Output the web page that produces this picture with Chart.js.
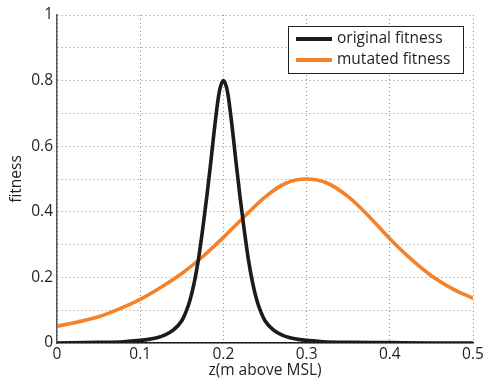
<!DOCTYPE html>
<html>
<head>
<meta charset="utf-8">
<script src="https://cdn.jsdelivr.net/npm/chart.js@4"></script>
<style>
  html, body { margin: 0; padding: 0; background: #fff; }
  #wrap { width: 487px; height: 385px; }
</style>
</head>
<body>
<div id="wrap"><canvas id="myChart" width="487" height="385"></canvas></div>
<script>
// valores
let zOriginal = [0, 0.05, 0.08, 0.1, 0.11, 0.12, 0.13, 0.14, 0.15, 0.155, 0.16, 0.165, 0.17, 0.175, 0.18, 0.185, 0.19, 0.195, 0.2,
  0.205, 0.21, 0.215, 0.22, 0.225, 0.23, 0.235, 0.24, 0.245, 0.25, 0.26, 0.27, 0.28, 0.29, 0.3, 0.32, 0.35, 0.4, 0.45, 0.5];
let fitOriginal = [0, 0.002, 0.004, 0.008, 0.011, 0.016, 0.025, 0.04, 0.068, 0.095, 0.132, 0.185, 0.255, 0.345, 0.445, 0.555, 0.67, 0.765, 0.8,
  0.765, 0.67, 0.555, 0.445, 0.345, 0.255, 0.185, 0.132, 0.095, 0.068, 0.04, 0.025, 0.016, 0.011, 0.008, 0.004, 0.002, 0.001, 0, 0];

let zMutated = [0, 0.025, 0.05, 0.075, 0.1, 0.125, 0.15, 0.175, 0.2, 0.225, 0.25, 0.275, 0.3, 0.325, 0.35, 0.375, 0.4, 0.425, 0.45, 0.475, 0.5];
let fitMutated = [0.051, 0.064, 0.08, 0.104, 0.133, 0.17, 0.212, 0.263, 0.322, 0.385, 0.445, 0.487, 0.5, 0.487, 0.446, 0.386, 0.318, 0.257, 0.205, 0.166, 0.136];

let xTicks = [0, 0.1, 0.2, 0.3, 0.4, 0.5];
let yTicks = [0, 0.2, 0.4, 0.6, 0.8, 1];

let series = [
  { label: "original fitness", color: "#1c1b1b", x: zOriginal, y: fitOriginal },
  { label: "mutated fitness", color: "#f5822a", x: zMutated, y: fitMutated },
];

let fuente = "'Open Sans', sans-serif";
Chart.defaults.font.family = fuente;
Chart.defaults.font.size = 15.5;
Chart.defaults.color = "#1f1f1f";

function crearData() {
  let datasets = series.map((s) => ({
    label: s.label,
    data: s.x.map((x, i) => ({ x: x, y: s.y[i] })),
    borderColor: s.color,
    backgroundColor: s.color,
    borderWidth: 3.6,
    pointRadius: 0,
    fill: false,
    cubicInterpolationMode: "monotone",
  }));
  return { datasets };
}

function etiqueta(v, lista) {
  let r = Math.round(v * 10) / 10;
  return lista.some((t) => Math.abs(t - r) < 1e-9) && Math.abs(v - r) < 1e-6 ? String(r) : "";
}

// leyenda dentro del area del grafico
const leyenda = {
  id: "leyenda",
  afterDraw(chart) {
    let { ctx, chartArea } = chart;
    let w = 175, h = 47;
    let x0 = chartArea.right - 10 - w;
    let y0 = chartArea.top + 11;
    ctx.save();
    ctx.fillStyle = "#fff";
    ctx.fillRect(x0, y0, w, h);
    ctx.strokeStyle = "#222";
    ctx.lineWidth = 1;
    ctx.strokeRect(x0 + 0.5, y0 + 0.5, w, h);
    series.forEach((s, i) => {
      let yy = y0 + 13 + i * 21;
      ctx.strokeStyle = s.color;
      ctx.lineWidth = 4;
      ctx.beginPath();
      ctx.moveTo(x0 + 8, yy);
      ctx.lineTo(x0 + 44, yy);
      ctx.stroke();
      ctx.fillStyle = "#1f1f1f";
      ctx.font = "15.5px " + fuente;
      ctx.textBaseline = "middle";
      ctx.textAlign = "left";
      ctx.fillText(s.label, x0 + 49, yy);
    });
    ctx.restore();
  },
};

const ctx = document.getElementById("myChart");
new Chart(ctx, {
  type: "line",
  data: crearData(),
  plugins: [leyenda],
  options: {
    responsive: false,
    animation: false,
    layout: { padding: { top: 15, right: 14, left: 0, bottom: 0 } },
    plugins: { legend: { display: false }, tooltip: { enabled: false } },
    scales: {
      x: {
        type: "linear",
        min: 0,
        max: 0.5,
        ticks: {
          stepSize: 0.1,
          padding: 2,
          maxRotation: 0,
          callback: (v) => etiqueta(v, xTicks),
        },
        grid: { color: "#8c8c8c", drawTicks: false, lineWidth: 1 },
        border: { color: "#1a1a1a", width: 1.5, dash: [1, 3] },
        title: { display: true, text: "z(m above MSL)", padding: { top: 0, bottom: 5 } },
        afterFit: (scale) => { scale.height = 42; },
      },
      y: {
        min: 0,
        max: 1,
        ticks: {
          stepSize: 0.1,
          padding: 4,
          callback: (v) => etiqueta(v, yTicks),
        },
        grid: { color: "#8c8c8c", drawTicks: false, lineWidth: 1 },
        border: { color: "#555", width: 1.5, dash: [1, 3] },
        title: { display: true, text: "fitness", padding: { top: 7, bottom: 0 } },
        afterFit: (scale) => { scale.width = 57; },
      },
    },
  },
});
</script>
</body>
</html>
